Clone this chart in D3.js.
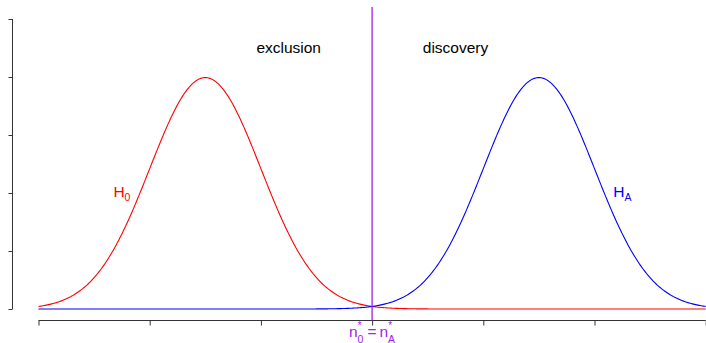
<!DOCTYPE html>
<html>
<head>
<meta charset="utf-8">
<script src="https://cdn.jsdelivr.net/npm/d3@7"></script>
<style>
  html, body { margin: 0; padding: 0; background: #fff; }
  svg { display: block; font-family: "Liberation Sans", Arial, Helvetica, sans-serif; }
</style>
</head>
<body>
<svg id="chart" width="706" height="343"></svg>
<script>
// Hypotheses: null (H0) and alternative (HA), each a normal density
const hypotheses = ["H0", "HA"];
const hypothesisMeans = [1.5, 4.5];
const hypothesisSds = [0.5, 0.5];
const hypothesisColors = ["#ff0000", "#0000ff"];

// Decision threshold n0* = nA* separating exclusion from discovery
const threshold = 3;
const regionNames = ["exclusion", "discovery"];

// Axis ticks (unlabelled)
const xTicks = [0, 1, 2, 3, 4, 5, 6];
const yTicks = [0, 0.2, 0.4, 0.6, 0.8, 1.0];

const svg = d3.select("#chart");

const x = d3.scaleLinear().domain([0, 6]).range([38.5, 705.7]);
const y = d3.scaleLinear().domain([0, 1]).range([309, 19]);

const purple = "#a020f0";
const axisColor = "#333";

// y axis on the left, ticks only
const yAxis = svg.append("g")
  .attr("transform", "translate(12.5,0)")
  .call(d3.axisLeft(y).tickValues(yTicks).tickSize(4).tickFormat(""));
yAxis.select(".domain").attr("stroke", axisColor).attr("d", `M-0,${y(1)}V${y(0)}`);
yAxis.selectAll(".tick line").attr("stroke", axisColor);

// x axis below the curves
const xAxis = svg.append("g")
  .attr("transform", "translate(0,320.5)")
  .call(d3.axisBottom(x).tickValues(xTicks).tickSize(5).tickFormat(""));
xAxis.select(".domain").attr("stroke", axisColor).attr("d", `M${x(0)},0H${x(6)}`);
xAxis.selectAll(".tick line").attr("stroke", axisColor);

// Normal density curves
const normalPdf = (v, mu, sd) =>
  Math.exp(-0.5 * ((v - mu) / sd) ** 2) / (sd * Math.sqrt(2 * Math.PI));
const grid = d3.range(0, 6.0001, 0.01);

const line = d3.line()
  .x(d => x(d[0]))
  .y(d => y(d[1]))
  .curve(d3.curveLinear);

hypotheses.forEach((h, i) => {
  const pts = grid.map(v => [v, normalPdf(v, hypothesisMeans[i], hypothesisSds[i])]);
  svg.append("path")
    .datum(pts)
    .attr("fill", "none")
    .attr("stroke", hypothesisColors[i])
    .attr("stroke-width", 1.1)
    .attr("d", line);
});

// Threshold line
svg.append("line")
  .attr("x1", x(threshold)).attr("x2", x(threshold))
  .attr("y1", 7).attr("y2", 320.5)
  .attr("stroke", purple)
  .attr("stroke-width", 1.3);

// Region labels either side of the threshold
regionNames.forEach((name, i) => {
  svg.append("text")
    .attr("x", x(threshold + (i === 0 ? -0.75 : 0.75)))
    .attr("y", 53)
    .attr("text-anchor", "middle")
    .attr("font-size", 15.5)
    .attr("fill", "#000")
    .text(name);
});

// Hypothesis labels, H with subscript
const subs = ["0", "A"];
hypotheses.forEach((h, i) => {
  const cx = x(hypothesisMeans[i] + (i === 0 ? -0.75 : 0.75));
  const t = svg.append("text")
    .attr("x", cx)
    .attr("y", 197)
    .attr("text-anchor", "middle")
    .attr("fill", hypothesisColors[i]);
  t.append("tspan").attr("font-size", 15.5).text("H");
  t.append("tspan").attr("font-size", 10.5).attr("dy", 4).text(subs[i]);
});

// Threshold label: n0* = nA*
const tx = x(threshold);
const lab = svg.append("g").attr("fill", purple);
function nSymbol(xLeft, sub) {
  lab.append("text").attr("x", xLeft).attr("y", 337).attr("font-size", 15.5).text("n");
  lab.append("text").attr("x", xLeft + 8.3).attr("y", 342.5).attr("font-size", 10.5).text(sub);
  lab.append("text").attr("x", xLeft + 8.6).attr("y", 329).attr("font-size", 10).text("*");
}
nSymbol(tx - 23, "0");
lab.append("text").attr("x", tx).attr("y", 337).attr("text-anchor", "middle")
  .attr("font-size", 15.5).text("=");
nSymbol(tx + 7.5, "A");
</script>
</body>
</html>
